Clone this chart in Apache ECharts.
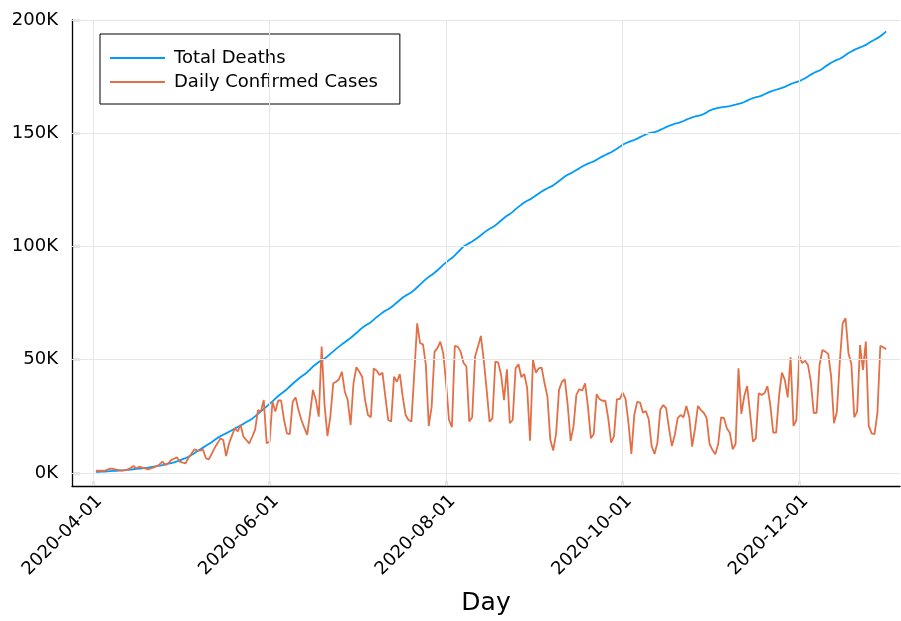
<!DOCTYPE html>
<html>
<head>
<meta charset="utf-8">
<script src="https://cdn.jsdelivr.net/npm/echarts@6/dist/echarts.min.js"></script>
<style>
html,body{margin:0;padding:0;background:#fff;}
#chart{width:901px;height:621px;}
</style>
</head>
<body>
<div id="chart"></div>
<script>
// First data point is 2020-04-02 (day 1 after 2020-04-01), one value per day.
const firstDay = 1;
const tickDays = [0, 61, 122, 183, 244];
const tickLabels = ['2020-04-01', '2020-06-01', '2020-08-01', '2020-10-01', '2020-12-01'];
const yTicks = [0, 50, 100, 150, 200];

// Total deaths, thousands
const totalDeaths = [
0.5,0.55,0.6,0.65,0.7,0.8,0.9,1.0,1.1,1.2,
1.3,1.4,1.5,1.65,1.8,1.95,2.1,2.25,2.4,2.6,
2.8,3.0,3.25,3.5,3.8,4.1,4.4,4.7,5.1,5.6,
6.1,6.6,7.2,
7.9,8.7,9.6,10.4,11.2,12.0,12.8,13.6,14.6,15.5,
16.2,16.9,17.5,18.2,18.9,19.6,20.3,21.0,21.7,22.5,23.2,24.0,
25.0,26.1,27.2,28.3,29.4,30.5,
31.6,32.8,34.0,35.0,36.0,
37.0,38.2,39.4,40.5,41.6,42.6,43.5,44.5,45.7,47.0,
48.0,49.0,49.8,50.5,51.5,52.6,53.7,54.8,55.8,56.8,57.7,58.7,
59.6,60.7,61.8,63.0,64.1,65.0,65.8,66.6,67.7,68.8,69.8,
70.8,71.6,72.3,73.2,74.2,75.3,76.4,77.5,78.3,79.0,79.8,80.8,
82.0,83.2,84.4,85.6,86.6,87.4,88.4,89.5,90.7,91.9,93.0,
94.0,94.9,96.1,97.4,98.7,100.0,
100.8,101.5,102.2,103.1,104.0,105.0,
106.0,107.0,107.8,108.5,109.3,110.4,111.5,112.6,113.6,114.3,115.3,116.5,
117.5,118.5,119.4,120.2,120.8,121.6,122.5,123.4,124.3,125.0,125.7,
126.3,127.0,127.9,128.9,129.9,130.9,131.7,132.3,133.0,133.8,134.5,135.3,
136.0,136.6,137.1,137.6,138.3,139.1,139.8,140.4,141.0,141.6,142.4,
143.2,144.0,144.9,145.6,146.1,146.6,147.0,147.6,148.3,
148.9,149.5,150.0,150.3,150.5,150.9,151.5,
152.1,152.7,153.3,153.7,154.2,
154.5,154.9,155.4,156.0,156.5,157.0,157.4,157.7,158.0,158.5,159.2,160.0,
160.5,160.9,161.2,161.4,161.6,161.8,162.0,162.3,162.6,163.0,163.3,
163.8,164.4,165.0,165.5,165.9,166.2,166.6,167.2,167.8,168.4,168.8,169.2,
169.6,170.0,170.5,171.1,171.7,172.2,172.6,173.0,173.6,
174.3,175.1,175.9,176.6,177.2,177.7,178.5,179.5,
180.3,181.1,181.8,182.4,182.9,183.6,184.5,185.4,186.1,
186.8,187.4,187.9,188.4,189.0,189.8,190.6,191.3,
192.0,192.8,193.8,195.0
];

// Daily confirmed cases, thousands
const dailyCases = [
1.0,1.0,1.0,1.0,1.5,1.9,1.8,1.5,1.3,1.0,
1.2,1.6,2.2,3.1,2.0,2.8,2.4,2.0,1.6,2.0,
2.5,3.0,3.8,5.0,3.5,4.3,5.7,6.3,6.9,5.0,
4.6,4.3,6.8,8.5,10.4,10.0,9.9,10.4,6.5,6.0,
8.4,11.0,13.1,15.3,14.6,7.5,13.0,16.5,19.7,18.4,
21.2,16.0,14.5,13.1,16.0,19.0,27.8,27.1,32.2,13.1,
13.8,31.5,27.1,32.0,32.0,23.4,17.5,17.2,31.5,33.4,
27.8,23.4,20.0,16.8,26.4,36.7,32.2,24.9,55.8,30.0,
16.3,24.9,39.6,40.3,41.4,44.7,35.9,32.2,21.2,39.6,
46.7,44.7,42.5,32.2,25.6,24.6,46.2,45.2,43.3,44.3,
33.7,23.4,22.7,42.5,40.3,43.7,33.7,25.6,23.4,22.7,
44.0,66.1,57.3,56.8,47.7,20.8,29.3,53.6,55.1,58.0,
52.9,39.6,23.4,20.2,56.1,55.8,53.6,48.7,47.0,22.7,
24.6,51.4,55.8,60.5,49.9,36.7,22.7,24.2,49.2,48.7,
43.3,32.2,45.8,22.0,23.4,46.2,48.0,42.3,43.7,37.4,
14.3,49.9,44.3,46.2,46.5,39.6,33.7,14.6,9.9,17.5,
36.7,40.3,41.4,30.0,14.2,20.5,34.5,37.0,36.4,39.6,
29.3,15.3,17.2,34.8,32.6,31.9,31.9,24.2,13.4,16.3,
32.6,32.6,35.5,32.6,22.0,8.4,25.6,31.4,31.1,26.6,
27.4,23.7,11.9,8.4,13.4,28.0,30.0,28.6,19.7,11.9,
16.8,24.2,25.6,24.6,29.6,24.6,11.6,19.7,29.6,27.8,
26.6,24.2,12.8,10.2,8.3,12.8,24.6,24.2,19.7,17.8,
10.5,12.8,46.2,26.1,34.0,38.4,26.4,13.8,15.3,35.2,
34.5,35.2,38.4,30.0,17.8,17.8,33.7,44.3,41.1,33.4,
51.1,20.8,23.4,51.7,48.5,49.6,47.7,40.3,26.4,26.6,
47.7,54.3,53.6,52.6,42.8,22.0,27.1,49.2,66.1,68.3,
52.9,48.1,24.6,27.1,56.5,45.5,58.0,20.8,17.5,17.2,
26.4,56.1,55.5,54.6
];

const toXY = arr => arr.map((v, i) => [firstDay + i, v]);
const FONT = 'DejaVu Sans';

const chart = echarts.init(document.getElementById('chart'), null, {renderer: 'canvas'});
chart.setOption({
  animation: false,
  backgroundColor: '#fff',
  textStyle: {fontFamily: FONT},
  grid: {left: 72, right: 1, top: 20, bottom: 135, containLabel: false},
  legend: {
    data: ['Total Deaths', 'Daily Confirmed Cases'],
    orient: 'vertical',
    left: 100, top: 34,
    padding: [15, 22, 13, 10],
    itemWidth: 55, itemHeight: 2, itemGap: 6,
    icon: 'rect',
    borderColor: '#000', borderWidth: 1, borderRadius: 0,
    backgroundColor: '#fff',
    textStyle: {fontSize: 18, color: '#000', fontFamily: FONT, padding: [0, 0, 0, 4]}
  },
  xAxis: {
    type: 'value',
    min: -7.25, max: 278.8,
    name: 'Day', nameLocation: 'middle', nameGap: 105,
    nameTextStyle: {fontSize: 25, color: '#000', fontFamily: FONT},
    axisLine: {onZero: false, lineStyle: {color: '#000', width: 1.3}},
    axisTick: {inside: true, length: 5, customValues: tickDays, lineStyle: {color: '#000', width: 1.2}},
    axisLabel: {
      customValues: tickDays, rotate: 45, fontSize: 18, color: '#000', margin: 6, fontFamily: FONT,
      verticalAlign: 'top',
      formatter: v => tickLabels[tickDays.indexOf(v)]
    },
    splitLine: {show: false}
  },
  yAxis: {
    type: 'value',
    min: -5.74, max: 200,
    axisLine: {show: true, onZero: false, lineStyle: {color: '#000', width: 1.3}},
    axisTick: {show: true, inside: true, length: 8, customValues: yTicks, lineStyle: {color: '#000', width: 1.2}},
    axisLabel: {
      customValues: yTicks, fontSize: 18, color: '#000', margin: 14, fontFamily: FONT,
      formatter: v => v + 'K'
    },
    splitLine: {show: false}
  },
  series: [
    {
      name: 'gridlines', type: 'line', data: [[0, 0]], showSymbol: false, silent: true, z: 1,
      lineStyle: {opacity: 0},
      markLine: {
        silent: true, symbol: 'none', animation: false,
        label: {show: false},
        lineStyle: {color: '#e6e6e6', width: 1, type: 'solid'},
        data: tickDays.map(d => ({xAxis: d})).concat(yTicks.map(v => ({yAxis: v})))
      }
    },
    {
      name: 'Total Deaths', type: 'line', data: toXY(totalDeaths), showSymbol: false, z: 3,
      color: '#009AFA', lineStyle: {color: '#009AFA', width: 1.8}
    },
    {
      name: 'Daily Confirmed Cases', type: 'line', data: toXY(dailyCases), showSymbol: false, z: 4,
      color: '#E36F47', lineStyle: {color: '#E36F47', width: 1.8}
    }
  ]
});
</script>
</body>
</html>
